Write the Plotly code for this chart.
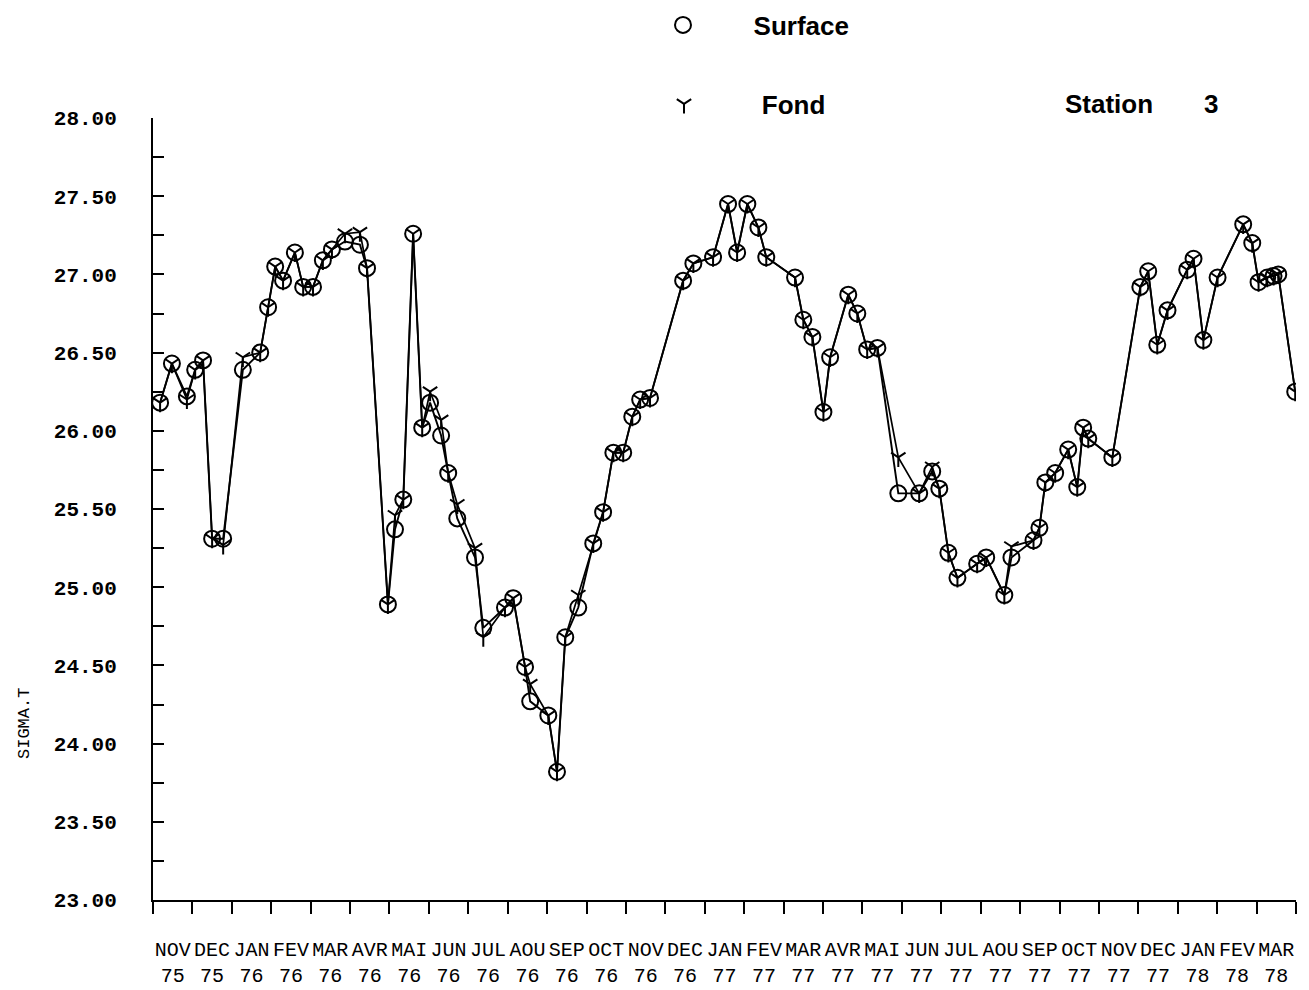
import plotly.graph_objects as go

# ---- tick labels (one per month interval) ----
month_labels = ["NOV", "DEC",
                "JAN", "FEV", "MAR", "AVR", "MAI", "JUN", "JUL", "AOU", "SEP", "OCT", "NOV", "DEC",
                "JAN", "FEV", "MAR", "AVR", "MAI", "JUN", "JUL", "AOU", "SEP", "OCT", "NOV", "DEC",
                "JAN", "FEV", "MAR"]
year_labels = ["75", "75",
               "76", "76", "76", "76", "76", "76", "76", "76", "76", "76", "76", "76",
               "77", "77", "77", "77", "77", "77", "77", "77", "77", "77", "77", "77",
               "78", "78", "78"]

# ---- sample dates, in months elapsed since 1 Nov 1975 ----
t_months = [0.18, 0.48, 0.86, 1.07, 1.27, 1.50, 1.78, 2.28, 2.72, 2.92,
            3.10, 3.30, 3.60, 3.81, 4.06, 4.31, 4.54, 4.87, 5.25, 5.43,
            5.96, 6.14, 6.35, 6.60, 6.83, 7.03, 7.31, 7.49, 7.72, 8.17,
            8.38, 8.93, 9.14, 9.44, 9.57, 10.03, 10.25, 10.46, 10.79, 11.17,
            11.42, 11.68, 11.93, 12.16, 12.36, 12.61, 13.45, 13.71, 14.21, 14.59,
            14.82, 15.08, 15.36, 15.56, 16.29, 16.50, 16.73, 17.01, 17.18, 17.64,
            17.87, 18.12, 18.38, 18.91, 19.44, 19.77, 19.95, 20.18, 20.41, 20.91,
            21.14, 21.60, 21.78, 22.34, 22.49, 22.64, 22.89, 23.22, 23.45, 23.60,
            23.73, 24.34, 25.05, 25.25, 25.48, 25.74, 26.24, 26.40, 26.65, 27.01,
            27.66, 27.89, 28.05, 28.27, 28.43, 28.55, 28.98]

sigma_surface = [26.18, 26.43, 26.22, 26.39, 26.45, 25.31, 25.31, 26.39, 26.50, 26.79,
                 27.05, 26.96, 27.14, 26.92, 26.92, 27.09, 27.16, 27.21, 27.19, 27.04,
                 24.89, 25.37, 25.56, 27.26, 26.02, 26.18, 25.97, 25.73, 25.44, 25.19,
                 24.74, 24.87, 24.93, 24.49, 24.27, 24.18, 23.82, 24.68, 24.87, 25.28,
                 25.48, 25.86, 25.86, 26.09, 26.20, 26.21, 26.96, 27.07, 27.11, 27.45,
                 27.14, 27.45, 27.30, 27.11, 26.98, 26.71, 26.60, 26.12, 26.47, 26.87,
                 26.75, 26.52, 26.53, 25.60, 25.60, 25.74, 25.63, 25.22, 25.06, 25.15,
                 25.19, 24.95, 25.19, 25.30, 25.38, 25.67, 25.73, 25.88, 25.64, 26.02,
                 25.95, 25.83, 26.92, 27.02, 26.55, 26.77, 27.03, 27.10, 26.58, 26.98,
                 27.32, 27.20, 26.95, 26.98, 26.99, 27.00, 26.25]

sigma_fond = [26.18, 26.43, 26.20, 26.39, 26.45, 25.31, 25.27, 26.47, 26.50, 26.79,
              27.05, 26.96, 27.14, 26.92, 26.92, 27.09, 27.16, 27.26, 27.27, 27.04,
              24.89, 25.46, 25.56, 27.26, 26.02, 26.25, 26.07, 25.73, 25.53, 25.25,
              24.68, 24.87, 24.93, 24.49, 24.38, 24.18, 23.82, 24.68, 24.95, 25.28,
              25.48, 25.86, 25.86, 26.09, 26.20, 26.21, 26.96, 27.07, 27.11, 27.45,
              27.14, 27.45, 27.30, 27.11, 26.98, 26.71, 26.60, 26.12, 26.47, 26.87,
              26.75, 26.52, 26.53, 25.83, 25.60, 25.77, 25.63, 25.22, 25.06, 25.15,
              25.19, 24.95, 25.26, 25.30, 25.38, 25.67, 25.73, 25.88, 25.64, 26.02,
              25.95, 25.83, 26.92, 27.02, 26.55, 26.77, 27.03, 27.10, 26.58, 26.98,
              27.32, 27.20, 26.95, 26.98, 26.99, 27.00, 26.25]

W, H = 1309, 990
L, R, T, B = 153, 13, 118, 90
PW, PH = W - L - R, H - T - B


def px_x(px):
    return (px - L) / PW


def px_y(py):
    return (H - B - py) / PH


head_font = dict(family="Liberation Sans", size=26, color="black", weight="bold")

fig = go.Figure()

# connecting lines
fig.add_trace(go.Scatter(x=t_months, y=sigma_fond, mode="lines",
                         line=dict(color="black", width=1.7), showlegend=False, hoverinfo="skip"))
fig.add_trace(go.Scatter(x=t_months, y=sigma_surface, mode="lines",
                         line=dict(color="black", width=1.9), showlegend=False, hoverinfo="skip"))
# markers
fig.add_trace(go.Scatter(x=t_months, y=sigma_surface, mode="markers",
                         name="\u00a0" * 7 + "Surface", legend="legend",
                         marker=dict(symbol="circle-open", size=16, color="black",
                                     line=dict(color="black", width=2))))
fig.add_trace(go.Scatter(x=t_months, y=sigma_fond, mode="markers",
                         name="\u00a0" * 8 + "Fond", legend="legend2",
                         marker=dict(symbol="y-down", size=12, color="black",
                                     line=dict(color="black", width=2))))

fig.update_layout(
    width=W, height=H,
    margin=dict(l=L, r=R, t=T, b=B, autoexpand=False),
    plot_bgcolor="white", paper_bgcolor="white",
    xaxis=dict(
        range=[0, 29], showgrid=False, zeroline=False,
        showline=True, linecolor="black", linewidth=2,
        tickmode="array",
        tickvals=[i + 0.5 for i in range(len(month_labels))],
        ticktext=[m + "<br>" + y for m, y in zip(month_labels, year_labels)],
        ticks="", tickangle=0,
        ticklabelstandoff=30,
        tickfont=dict(family="Liberation Mono", size=20, color="black"),
        minor=dict(ticks="outside", ticklen=12, tickwidth=2, tickcolor="black",
                   tick0=0, dtick=1, showgrid=False),
    ),
    yaxis=dict(
        range=[23, 28], showgrid=False, zeroline=False,
        showline=True, linecolor="black", linewidth=2,
        tick0=23, dtick=0.5, tickformat=".2f",
        ticks="inside", ticklen=11, tickwidth=2, tickcolor="black",
        ticklabelstandoff=30,
        tickfont=dict(family="Liberation Mono", size=21, color="black", weight="bold"),
        minor=dict(ticks="inside", ticklen=11, tickwidth=2, tickcolor="black",
                   tick0=23, dtick=0.25, showgrid=False),
    ),
    legend=dict(xref="container", yref="container", x=663 / W, y=1 - 25 / H,
                xanchor="left", yanchor="middle", bgcolor="rgba(0,0,0,0)",
                font=head_font),
    legend2=dict(xref="container", yref="container", x=664 / W, y=1 - 104 / H,
                 xanchor="left", yanchor="middle", bgcolor="rgba(0,0,0,0)",
                 font=head_font),
    annotations=[
        dict(text="Station", x=px_x(1063), y=px_y(104), xref="paper", yref="paper",
             xanchor="left", yanchor="middle", showarrow=False, font=head_font),
        dict(text="3", x=px_x(1211), y=px_y(104), xref="paper", yref="paper",
             xanchor="center", yanchor="middle", showarrow=False, font=head_font),
        dict(text="SIGMA.T", x=px_x(24), y=px_y(724), xref="paper", yref="paper",
             xanchor="center", yanchor="middle", showarrow=False, textangle=-90,
             font=dict(family="Liberation Mono", size=17, color="black")),
    ],
)

fig.write_html("out.html")
